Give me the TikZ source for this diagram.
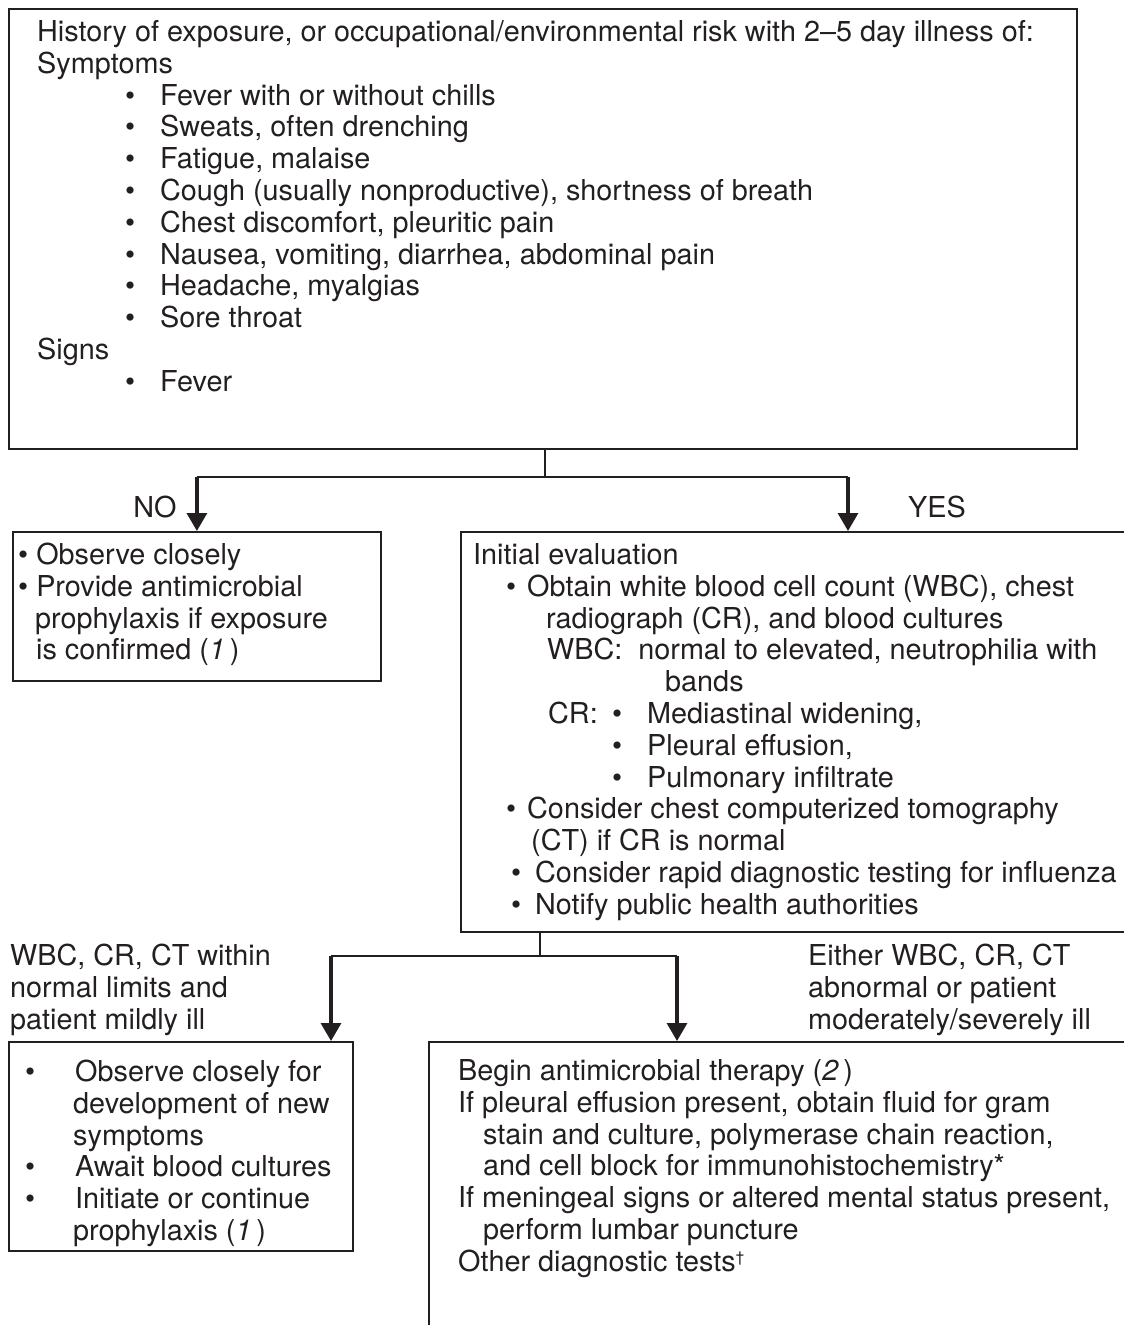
\documentclass[tikz,border=0pt]{standalone}
\usepackage{fontspec}
\setmainfont{TeX Gyre Heros}
\usetikzlibrary{arrows.meta}

\definecolor{ink}{RGB}{35,31,32}

% indentation helpers
\newcommand\indt[1]{\hspace*{#1pt}}
\newcommand\bul[2]{\hspace*{#1pt}\makebox[#2pt][l]{\textbullet}}

\tikzset{
  box/.style={draw=ink, line width=1.8pt, anchor=north west, inner sep=0pt},
  txt/.style={anchor=north west, inner sep=0pt, align=left, text=ink,
              font=\fontsize{28.8}{31.8}\selectfont},
  lbl/.style={inner sep=0pt, text=ink, font=\fontsize{28.8}{31.8}\selectfont},
  stem/.style={draw=ink, line width=1.8pt},
  flow/.style={draw=ink, line width=3.2pt, -{Triangle[width=20pt,length=18pt]}}
}

\begin{document}
\begin{tikzpicture}[x=1pt,y=-1pt]

    \useasboundingbox (0,0) rectangle (1124,1325);
    \clip (0,0) rectangle (1124,1325);

    % boxes
    \node[box, minimum width=1068pt, minimum height=440pt] (hist) at (8,8) {};
    \node[box, minimum width=368pt, minimum height=149pt] (nobox) at (12,531) {};
    \node[box, minimum width=690pt, minimum height=400pt] (eval) at (460,531) {};
    \node[box, minimum width=344pt, minimum height=209pt] (mild) at (8,1041) {};
    \node[box, minimum width=720pt, minimum height=320pt] (therapy) at (428,1041) {};

    % texts
    \node[txt] (histtxt) at (37,19) {\strut History of exposure, or occupational/environmental risk with 2--5 day illness of:\\
        Symptoms\\
        \bul{88}{35}Fever with or without chills\\
        \bul{88}{35}Sweats, often drenching\\
        \bul{88}{35}Fatigue, malaise\\
        \bul{88}{35}Cough (usually nonproductive), shortness of breath\\
        \bul{88}{35}Chest discomfort, pleuritic pain\\
        \bul{88}{35}Nausea, vomiting, diarrhea, abdominal pain\\
        \bul{88}{35}Headache, myalgias\\
        \bul{88}{35}Sore throat\\
        Signs\\
        \bul{88}{35}Fever};

    \node[txt] (notxt) at (18,542) {\strut\textbullet\ Observe closely\\
        \textbullet\ Provide antimicrobial\\
        \indt{17}prophylaxis if exposure\\
        \indt{18}is confirmed (\textit{1}\,)};

    \node[txt] (evaltxt) at (473,542) {\strut Initial evaluation\\
        \bul{33}{21}Obtain white blood cell count (WBC), chest\\
        \indt{73}radiograph (CR), and blood cultures\\
        \indt{74}WBC:\ \ normal to elevated, neutrophilia with\\
        \indt{192}bands\\
        \indt{75}\makebox[64pt][l]{CR:}\makebox[35pt][l]{\textbullet}Mediastinal widening,\\
        \bul{139}{35}Pleural effusion,\\
        \bul{139}{35}Pulmonary infiltrate\\
        \bul{33}{21}Consider chest computerized tomography\\
        \indt{58}(CT) if CR is normal\\
        \bul{38}{24}Consider rapid diagnostic testing for influenza\\
        \bul{38}{24}Notify public health authorities};

    \node[txt] (mildtxt) at (25,1059) {\strut\makebox[50pt][l]{\textbullet}Observe closely for\\
        \indt{48}development of new\\
        \indt{48}symptoms\\
        \makebox[50pt][l]{\textbullet}Await blood cultures\\
        \makebox[50pt][l]{\textbullet}Initiate or continue\\
        \indt{48}prophylaxis (\textit{1}\,)};

    \node[txt] (therapytxt) at (458,1058) {\strut Begin antimicrobial therapy (\textit{2}\,)\\
        If pleural effusion present, obtain fluid for gram\\
        \indt{25}stain and culture, polymerase chain reaction,\\
        \indt{25}and cell block for immunohistochemistry*\\
        If meningeal signs or altered mental status present,\\
        \indt{25}perform lumbar puncture\\
        Other diagnostic tests\textsuperscript{\fontsize{15}{15}\selectfont\textdagger}};

    % branch labels
    \node[lbl] (no) at (155,507) {NO};
    \node[lbl] (yes) at (937,507) {YES};
    \node[txt] (normtxt) at (10,943) {\strut WBC, CR, CT within\\normal limits and\\patient mildly ill};
    \node[txt] (abntxt) at (808,943) {\strut Either WBC, CR, CT\\abnormal or patient\\moderately/severely ill};

    % connectors
    \coordinate (fork1) at (545,477);
    \coordinate (yesin) at (848,531);
    \draw[stem] (hist.south -| fork1) -- (fork1);
    \draw[stem] (fork1 -| nobox.north) -- (fork1 -| yesin);
    \draw[flow] (fork1 -| nobox.north) -- (nobox.north);
    \draw[flow] (fork1 -| yesin) -- (yesin);

    \coordinate (fork2) at (540,956);
    \coordinate (mildin) at (331,1041);
    \coordinate (therin) at (677,1041);
    \draw[stem] (eval.south -| fork2) -- (fork2);
    \draw[stem] (fork2 -| mildin) -- (fork2 -| therin);
    \draw[flow] (fork2 -| mildin) -- (mildin);
    \draw[flow] (fork2 -| therin) -- (therin);

\end{tikzpicture}
\end{document}
